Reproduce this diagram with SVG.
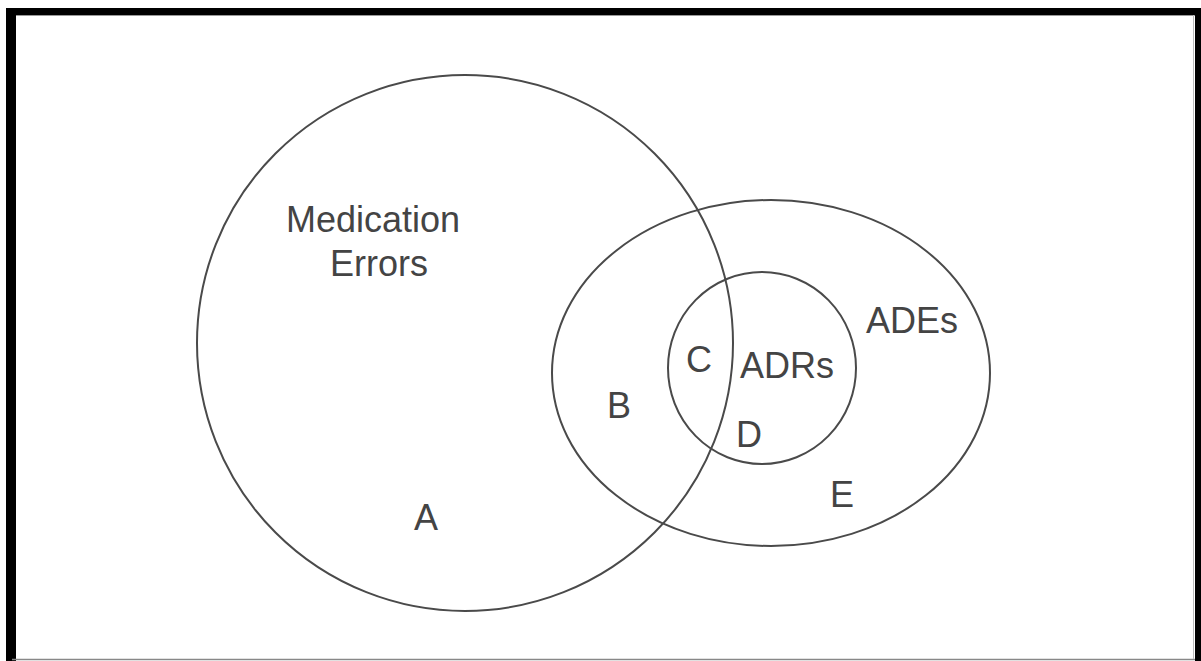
<svg xmlns="http://www.w3.org/2000/svg" width="1201" height="661" viewBox="0 0 1201 661">
<style>
.ring{fill:none;stroke:#4a4a4a;stroke-width:2}
.lbl{font-family:"Liberation Sans",Arial,sans-serif;font-size:36px;fill:#444}
</style>
<rect width="1201" height="661" fill="#fff"/>
<g id="frame">
<rect x="6" y="8" width="1195" height="7" fill="#000"/>
<rect x="6" y="8" width="10" height="653" fill="#000"/>
<rect x="1195" y="8" width="6" height="653" fill="#000"/>
<line x1="16" y1="15.5" x2="1195" y2="15.5" stroke="#999" stroke-width="1"/>
<line x1="12" y1="659.5" x2="1195" y2="659.5" stroke="#888" stroke-width="1.5"/>
<line x1="1193.5" y1="15" x2="1193.5" y2="659" stroke="#bbb" stroke-width="1"/>
</g>
<g id="medication-errors">
<circle class="ring" cx="465" cy="343" r="268"/>
<text class="lbl" x="286" y="232">Medication</text>
<text class="lbl" x="330" y="276">Errors</text>
<text class="lbl" x="414" y="530">A</text>
</g>
<g id="ades">
<ellipse class="ring" cx="771" cy="373" rx="219" ry="173"/>
<text class="lbl" x="866" y="333">ADEs</text>
<text class="lbl" x="607" y="418">B</text>
<text class="lbl" x="830" y="507">E</text>
</g>
<g id="adrs">
<ellipse class="ring" cx="762" cy="368" rx="94" ry="96"/>
<text class="lbl" x="740" y="378">ADRs</text>
<text class="lbl" x="686" y="372">C</text>
<text class="lbl" x="736" y="447">D</text>
</g>
<g id="connectors"></g>
</svg>
